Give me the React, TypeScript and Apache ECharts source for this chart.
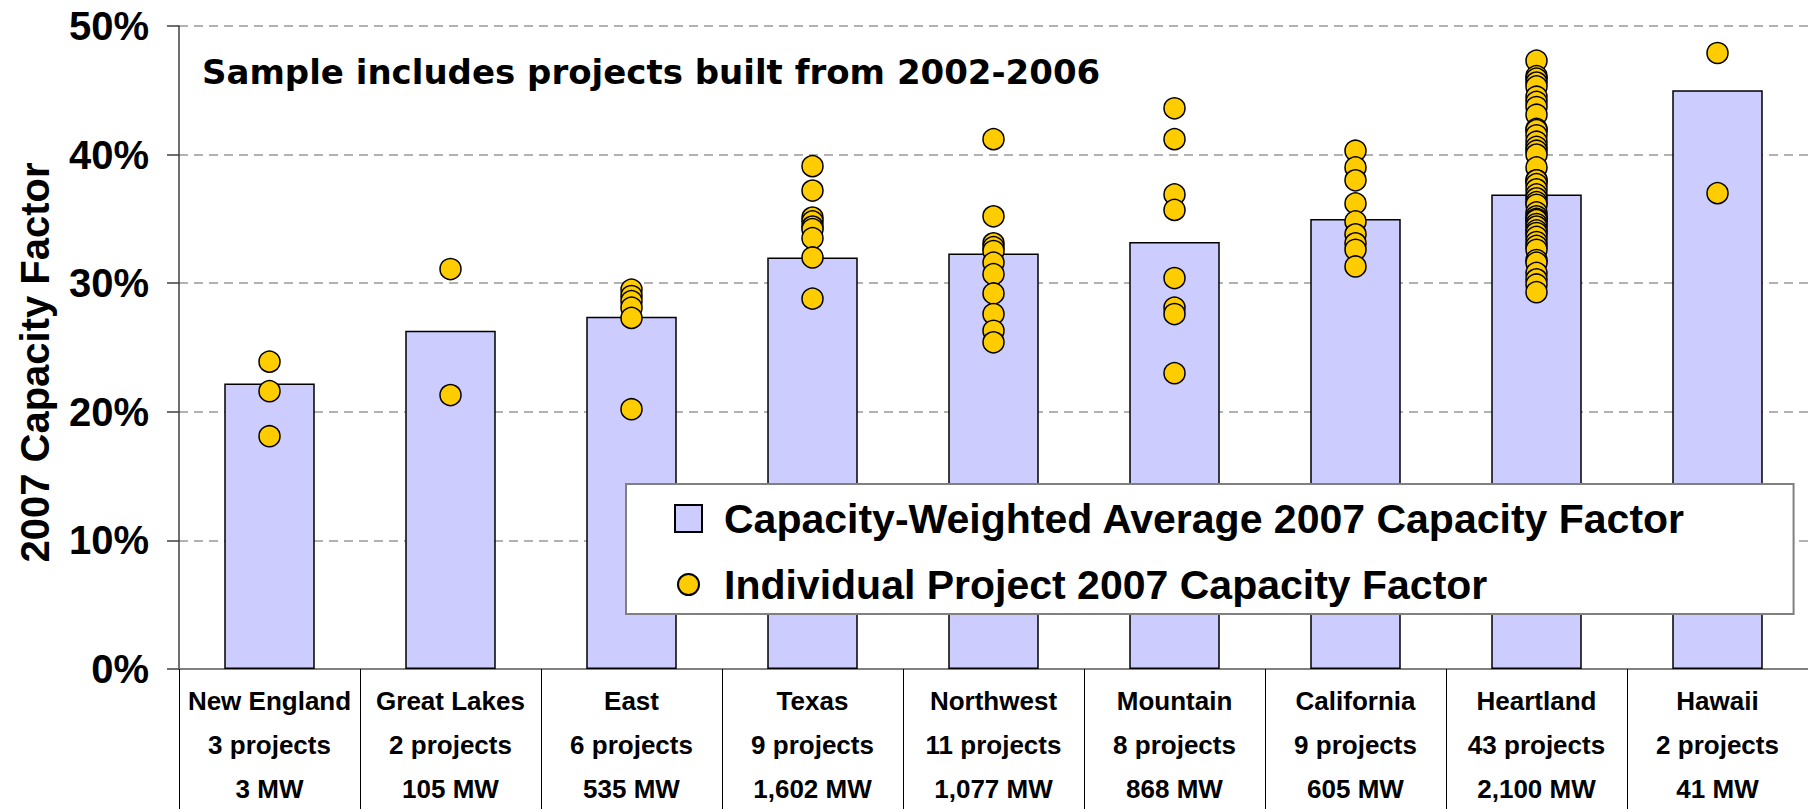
import React, { useEffect, useRef } from 'react';
import * as echarts from 'echarts';

const categories = ['New England', 'Great Lakes', 'East', 'Texas', 'Northwest', 'Mountain', 'California', 'Heartland', 'Hawaii'];
const projectCounts = ['3 projects', '2 projects', '6 projects', '9 projects', '11 projects', '8 projects', '9 projects', '43 projects', '2 projects'];
const capacityMW = ['3 MW', '105 MW', '535 MW', '1,602 MW', '1,077 MW', '868 MW', '605 MW', '2,100 MW', '41 MW'];
const yTicks = [0, 10, 20, 30, 40, 50];

const weightedAvg = [22.2, 26.3, 27.4, 32.0, 32.3, 33.2, 35.0, 36.9, 45.0];

const newEngland = [23.9, 21.6, 18.1];
const greatLakes = [31.1, 21.3];
const east = [29.5, 29.0, 28.6, 28.1, 27.3, 20.2];
const texas = [39.1, 37.2, 35.1, 34.8, 34.4, 34.2, 33.5, 32.0, 28.8];
const northwest = [41.2, 35.2, 33.1, 32.8, 32.5, 31.6, 30.7, 29.2, 27.6, 26.3, 25.4];
const mountain = [43.6, 41.2, 36.9, 35.7, 30.4, 28.1, 27.6, 23.0];
const california = [40.3, 39.0, 38.0, 36.2, 34.8, 33.8, 33.1, 32.6, 31.3];
const heartland = [
  47.3, 46.1, 45.9, 45.6, 45.3, 44.5, 44.1, 43.7, 43.1, 42.0, 41.9, 41.5, 41.0, 40.6, 40.3,
  40.0, 39.0, 38.0, 38.0, 37.7, 37.3, 36.9, 36.6, 36.3, 36.1, 35.5, 35.2, 35.0, 34.9, 34.6,
  34.4, 34.1, 33.9, 33.6, 33.2, 32.9, 32.6, 31.8, 31.6, 30.8, 30.3, 29.9, 29.3,
];
const hawaii = [47.9, 37.0];

const projectsByRegion = [newEngland, greatLakes, east, texas, northwest, mountain, california, heartland, hawaii];

const barName = 'Capacity-Weighted Average 2007 Capacity Factor';
const dotName = 'Individual Project 2007 Capacity Factor';
const titleText = 'Sample includes projects built from 2002-2006';
const yName = '2007 Capacity Factor';

const scatterData: [number, number][] = [];
projectsByRegion.forEach((vals, i) => vals.forEach((v) => scatterData.push([i, v])));

const ARIAL = 'Liberation Sans, Arial, sans-serif';
// circle of diameter 21 inside a 27x27 box (the extra moveTo points keep the box size)
const SMALL_CIRCLE = 'path://M0,0 M27,27 M3,13.5 A10.5,10.5 0 1 1 24,13.5 A10.5,10.5 0 1 1 3,13.5 Z';

export default function App() {
  const ref = useRef<HTMLDivElement>(null);
  useEffect(() => {
    document.body.style.margin = '0';
    const chart = echarts.init(ref.current as HTMLDivElement, null, { renderer: 'svg' });
    chart.setOption({
      animation: false,
      backgroundColor: '#ffffff',
      title: {
        text: titleText,
        left: 202,
        top: 51,
        padding: 0,
        textStyle: { fontFamily: 'DejaVu Sans', fontWeight: 'bold', fontSize: 34, lineHeight: 42, color: '#000' },
      },
      grid: { left: 179, top: 26, width: 1632, bottom: 133, containLabel: false },
      legend: {
        orient: 'vertical',
        left: 626,
        top: 484,
        padding: [14, 108, 9, 48],
        itemGap: 25,
        itemWidth: 27,
        itemHeight: 27,
        backgroundColor: '#ffffff',
        borderColor: '#808080',
        borderWidth: 2,
        textStyle: { fontFamily: ARIAL, fontWeight: 'bold', fontSize: 41, lineHeight: 40, color: '#000', padding: [0, 0, 0, 17] },
        data: [
          { name: barName, icon: 'rect' },
          { name: dotName, icon: SMALL_CIRCLE },
        ],
      },
      xAxis: {
        type: 'category',
        data: categories,
        axisLine: { lineStyle: { color: '#808080', width: 2 } },
        axisTick: { show: true, length: 140, interval: 0, lineStyle: { color: '#000', width: 1 } },
        axisLabel: {
          interval: 0,
          margin: 10,
          fontFamily: ARIAL,
          fontWeight: 'bold',
          fontSize: 26,
          lineHeight: 44,
          color: '#000',
          formatter: (value: string, index: number) => `${value}\n${projectCounts[index]}\n${capacityMW[index]}`,
        },
      },
      yAxis: {
        type: 'value',
        min: yTicks[0],
        max: yTicks[yTicks.length - 1],
        interval: 10,
        name: yName,
        nameLocation: 'middle',
        nameGap: 124,
        nameTextStyle: { fontFamily: ARIAL, fontWeight: 'bold', fontSize: 40, color: '#000', padding: [0, 30, 0, 0] },
        axisLine: { show: true, lineStyle: { color: '#404040', width: 1.5 } },
        axisTick: { show: true, length: 12, lineStyle: { color: '#404040', width: 1.5 } },
        axisLabel: {
          margin: 30,
          fontFamily: ARIAL,
          fontWeight: 'bold',
          fontSize: 40,
          color: '#000',
          formatter: '{value}%',
        },
        splitLine: { show: true, lineStyle: { type: [9, 6], color: '#999999', width: 1.5 } },
      },
      series: [
        {
          name: barName,
          type: 'bar',
          data: weightedAvg,
          barWidth: '50%',
          z: 2,
          itemStyle: { color: '#CCCCFF', borderColor: '#000', borderWidth: 1.5 },
        },
        {
          name: dotName,
          type: 'scatter',
          data: scatterData,
          symbol: 'circle',
          symbolSize: 21,
          z: 3,
          itemStyle: { color: '#FFCC00', borderColor: '#000', borderWidth: 1.5, opacity: 1 },
        },
      ],
    });
    return () => chart.dispose();
  }, []);
  return <div ref={ref} style={{ width: 1808, height: 811 }} />;
}
